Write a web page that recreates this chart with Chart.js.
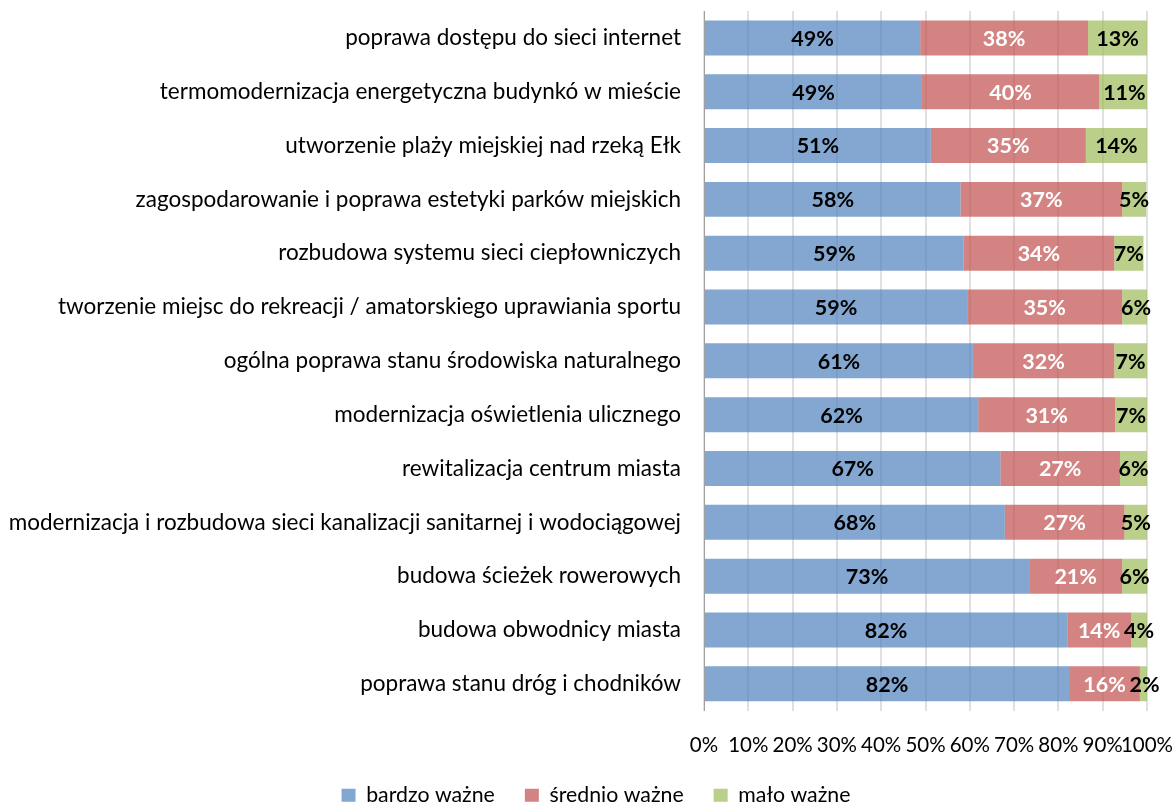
<!DOCTYPE html>
<html>
<head>
<meta charset="utf-8">
<script src="https://cdn.jsdelivr.net/npm/chart.js@4"></script>
<style>
  html, body { margin: 0; padding: 0; background: #fff; }
  #wrap { width: 1176px; height: 805px; }
</style>
</head>
<body>
<div id="wrap"><canvas id="chart"></canvas></div>
<script>
// categories, top to bottom
const categories = [
  'poprawa dostępu do sieci internet',
  'termomodernizacja energetyczna budynkó w mieście',
  'utworzenie plaży miejskiej nad rzeką Ełk',
  'zagospodarowanie i poprawa estetyki parków miejskich',
  'rozbudowa systemu sieci ciepłowniczych',
  'tworzenie miejsc do rekreacji / amatorskiego uprawiania sportu',
  'ogólna poprawa stanu środowiska naturalnego',
  'modernizacja oświetlenia ulicznego',
  'rewitalizacja centrum miasta',
  'modernizacja i rozbudowa sieci kanalizacji sanitarnej i wodociągowej',
  'budowa ścieżek rowerowych',
  'budowa obwodnicy miasta',
  'poprawa stanu dróg i chodników'
];

// shares in %
const bardzoWazne  = [48.8, 49.2, 51.2, 57.9, 58.6, 59.4, 60.7, 61.9, 66.9, 67.9, 73.4, 82.0, 82.4];
const srednioWazne = [37.9, 40.0, 35.0, 36.5, 34.0, 35.0, 31.9, 30.9, 27.0, 27.0, 21.0, 14.4, 16.0];
const maloWazne    = [13.3, 11.4, 13.8, 5.4, 6.6, 6.3, 7.4, 7.2, 6.1, 5.1, 5.6, 3.6, 2.1];

const seriesNames = ['bardzo ważne', 'średnio ważne', 'mało ważne'];
const tickLabels = ['0%', '10%', '20%', '30%', '40%', '50%', '60%', '70%', '80%', '90%', '100%'];

const FONT = 'Lato, "Open Sans", sans-serif';

// percentage labels in the middle of every segment
const segmentLabels = {
  id: 'segmentLabels',
  afterLayout(chart) {
    // long category names reach further left than the axis box, don't clip them
    chart.scales.y.left = 0;
  },
  afterDatasetsDraw(chart) {
    const ctx = chart.ctx;
    const colors = ['#000', '#fff', '#000'];
    ctx.save();
    ctx.font = 'bold 21.5px ' + FONT;
    ctx.textAlign = 'center';
    ctx.textBaseline = 'middle';
    chart.data.datasets.forEach((ds, i) => {
      const meta = chart.getDatasetMeta(i);
      ctx.fillStyle = colors[i];
      meta.data.forEach((bar, j) => {
        const cx = (bar.x + bar.base) / 2;
        ctx.fillText(Math.round(ds.data[j]) + '%', cx, bar.y + 1);
      });
    });
    ctx.restore();
  }
};

new Chart(document.getElementById('chart'), {
  type: 'bar',
  data: {
    labels: categories,
    datasets: [
      { label: seriesNames[0], data: bardzoWazne,  backgroundColor: 'rgba(79,129,189,0.7)' },
      { label: seriesNames[1], data: srednioWazne, backgroundColor: 'rgba(192,80,77,0.7)' },
      { label: seriesNames[2], data: maloWazne,    backgroundColor: 'rgba(155,187,89,0.7)' }
    ]
  },
  options: {
    indexAxis: 'y',
    responsive: true,
    maintainAspectRatio: false,
    animation: false,
    layout: { padding: { top: 11, right: 29, left: 45, bottom: -11 } },
    datasets: { bar: { barPercentage: 0.65, categoryPercentage: 1 } },
    scales: {
      x: {
        stacked: true,
        min: 0,
        max: 100,
        afterFit: (scale) => {
          scale.height = 44;
          scale.paddingLeft = 0;
          scale.paddingRight = 0;
        },
        ticks: {
          stepSize: 10,
          padding: 22,
          color: '#000',
          font: { family: FONT, size: 20.5 },
          maxRotation: 0,
          autoSkip: false,
          callback: (v, i) => tickLabels[i]
        },
        grid: { color: 'rgba(0,0,0,0.12)', lineWidth: 2, drawTicks: false },
        border: { display: false }
      },
      y: {
        stacked: true,
        afterFit: (scale) => {
          scale.width = 659;
          scale.paddingTop = 0;
          scale.paddingBottom = 0;
        },
        ticks: {
          padding: 23,
          color: '#000',
          font: { family: FONT, size: 22.5 },
          autoSkip: false
        },
        grid: { display: false, drawTicks: false },
        border: { display: true, color: '#a0a0a0', width: 1 }
      }
    },
    plugins: {
      legend: {
        position: 'bottom',
        labels: {
          color: '#000',
          font: { family: FONT, size: 21.3 },
          boxWidth: 14,
          boxHeight: 13,
          padding: 30
        }
      },
      tooltip: { enabled: false }
    }
  },
  plugins: [segmentLabels]
});
</script>
</body>
</html>
